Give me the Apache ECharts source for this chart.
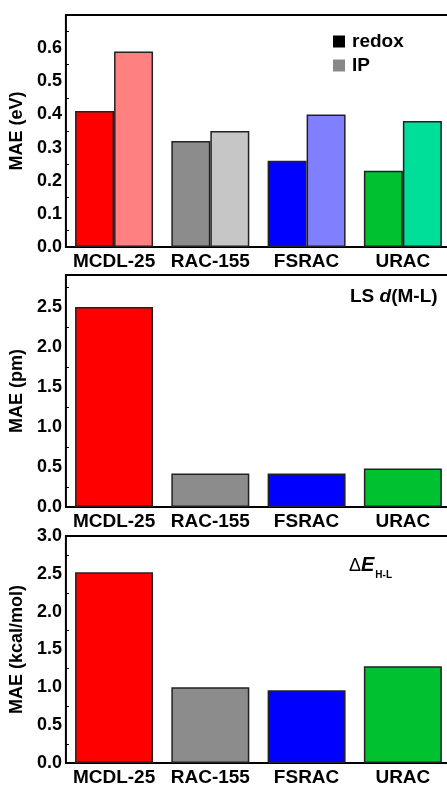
<!DOCTYPE html>
<html>
<head>
<meta charset="utf-8">
<script src="https://cdn.jsdelivr.net/npm/echarts@6/dist/echarts.min.js"></script>
<style>
  html, body { margin: 0; padding: 0; background: #fff; overflow: hidden; }
  #chart { width: 460px; height: 787px; }
</style>
</head>
<body>
<div id="chart"></div>
<script>
// 数据
var categories = ['MCDL-25', 'RAC-155', 'FSRAC', 'URAC'];
var redoxValues = [0.41, 0.32, 0.26, 0.23];
var ipValues = [0.59, 0.35, 0.40, 0.38];
var bondValues = [2.50, 0.42, 0.42, 0.48];
var gapValues = [2.52, 1.00, 0.96, 1.28];

var darkColors = ['#ff0000', '#8c8c8c', '#0000ff', '#00c12f'];
var lightColors = ['#ff8080', '#c6c6c6', '#8080ff', '#00df9a'];

var font = 'Liberation Sans, Arial, sans-serif';

function coloured(values, colors) {
    return values.map(function (v, i) {
        return { value: v, itemStyle: { color: colors[i] } };
    });
}

// 画布比窗口宽一点，右边框落在可见区域之外
var grids = [
    { left: 63, right: 9, top: 15, height: 232 },
    { left: 63, right: 9, top: 275, height: 232 },
    { left: 63, right: 9, top: 536, height: 232 }
];
grids.forEach(function (g) {
    g.show = true;
    g.borderColor = '#000';
    g.borderWidth = 2;
    g.backgroundColor = 'transparent';
});

var yNames = ['MAE (eV)', 'MAE (pm)', 'MAE (kcal/mol)'];
var yMax = [0.7, 2.9, 3.0];
var yStep = [0.1, 0.5, 0.5];
var showMax = [false, false, true];

var xAxes = [];
var yAxes = [];
for (var i = 0; i < 3; i++) {
    xAxes.push({
        type: 'category',
        gridIndex: i,
        data: categories,
        axisLine: { show: false },
        axisTick: { show: false },
        axisLabel: { interval: 0, hideOverlap: false, color: '#000', fontFamily: font, fontWeight: 'bold', fontSize: 19, margin: 5 }
    });
    yAxes.push({
        type: 'value',
        gridIndex: i,
        min: 0,
        max: yMax[i],
        interval: yStep[i],
        name: yNames[i],
        nameLocation: 'middle',
        nameGap: 33,
        nameTextStyle: { color: '#000', fontFamily: font, fontWeight: 'bold', fontSize: 18 },
        axisLine: { show: false },
        axisTick: { inside: true, length: 6, lineStyle: { color: '#000', width: 1.5 } },
        minorTick: { show: true, splitNumber: 2, length: 3, lineStyle: { color: '#000', width: 1 } },
        splitLine: { show: false },
        axisLabel: {
            color: '#000', fontFamily: font, fontWeight: 'bold', fontSize: 18, margin: 4,
            showMaxLabel: showMax[i],
            formatter: function (v) { return v.toFixed(1); }
        }
    });
    // 右侧刻度
    yAxes.push({
        type: 'value',
        gridIndex: i,
        position: 'right',
        min: 0,
        max: yMax[i],
        interval: yStep[i],
        axisLine: { show: false },
        axisTick: { inside: true, length: 6, lineStyle: { color: '#000', width: 1.5 } },
        minorTick: { show: true, splitNumber: 2, length: 3, lineStyle: { color: '#000', width: 1 } },
        splitLine: { show: false },
        axisLabel: { show: false }
    });
}

var barBorder = { borderColor: '#222', borderWidth: 1.5 };

var option = {
    animation: false,
    grid: grids,
    xAxis: xAxes,
    yAxis: yAxes,
    legend: {
        data: ['redox', 'IP'],
        orient: 'vertical',
        left: 328,
        top: 27,
        icon: 'rect',
        itemWidth: 12,
        itemHeight: 12,
        itemGap: 5,
        itemStyle: { borderWidth: 0 },
        textStyle: { color: '#000', fontFamily: font, fontWeight: 'bold', fontSize: 19, padding: [0, 0, 0, 2] }
    },
    series: [{
        name: 'redox',
        type: 'bar',
        xAxisIndex: 0,
        yAxisIndex: 0,
        barGap: '0%',
        barCategoryGap: '19%',
        itemStyle: Object.assign({ color: '#000' }, barBorder),
        data: coloured(redoxValues, darkColors)
    }, {
        name: 'IP',
        type: 'bar',
        xAxisIndex: 0,
        yAxisIndex: 0,
        barGap: '0%',
        barCategoryGap: '19%',
        itemStyle: Object.assign({ color: '#888' }, barBorder),
        data: coloured(ipValues, lightColors)
    }, {
        name: 'LS d(M-L)',
        type: 'bar',
        xAxisIndex: 1,
        yAxisIndex: 2,
        barCategoryGap: '19%',
        itemStyle: barBorder,
        data: coloured(bondValues, darkColors)
    }, {
        name: 'ΔE(H-L)',
        type: 'bar',
        xAxisIndex: 2,
        yAxisIndex: 4,
        barCategoryGap: '19%',
        itemStyle: barBorder,
        data: coloured(gapValues, darkColors)
    }],
    graphic: [{
        type: 'text',
        left: 350,
        top: 287,
        style: {
            text: '{a|LS }{i|d}{a|(M-L)}',
            rich: {
                a: { fontFamily: font, fontWeight: 'bold', fontSize: 19, fill: '#000' },
                i: { fontFamily: font, fontWeight: 'bold', fontStyle: 'italic', fontSize: 19, fill: '#000' }
            }
        }
    }, {
        type: 'text',
        left: 349,
        top: 555,
        style: {
            text: '{a|Δ}{e|E}{s|H-L}',
            rich: {
                a: { fontFamily: font, fontSize: 18, fill: '#000', verticalAlign: 'bottom' },
                e: { fontFamily: font, fontWeight: 'bold', fontStyle: 'italic', fontSize: 20, fill: '#000', verticalAlign: 'bottom' },
                s: { fontFamily: font, fontWeight: 'bold', fontSize: 10, fill: '#000', verticalAlign: 'bottom', padding: [0, 0, -5, 1] }
            }
        }
    }]
};

var chart = echarts.init(document.getElementById('chart'));
chart.setOption(option);
</script>
</body>
</html>
